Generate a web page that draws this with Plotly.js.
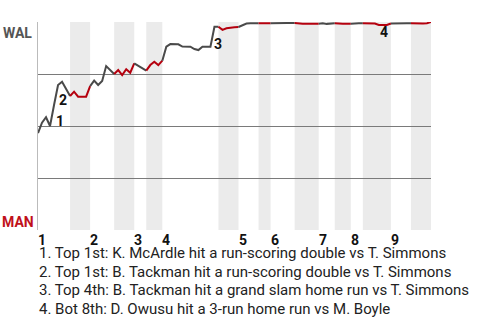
<!DOCTYPE html>
<html>
<head>
<meta charset="utf-8">
<script src="https://cdn.plot.ly/plotly-3.0.1.min.js"></script>
<style>html,body{margin:0;padding:0;background:#fff;}#chart{width:480px;height:320px;}</style>
</head>
<body>
<div id="chart"></div>
<script>
// Win probability for WAL (%) after each plate appearance (index 0..98)
const winProb = [
  46.6, 51.6, 54.2, 50.0, 60.1, 69.7, 71.3, 67.8, 64.4,          // top 1 (0-8)
  66.5, 64.1, 64.1, 64.1, 69.2,                                  // bot 1 (9-13)
  71.8, 69.7, 71.6, 78.8, 76.9, 75.0,                            // top 2 (14-19)
  76.9, 74.5, 77.3, 75.6, 80.1,                                  // bot 2 (20-24)
  78.8, 77.6, 76.6,                                              // top 3 (25-27)
  79.3, 80.9, 79.3, 81.4,                                        // bot 3 (28-31)
  88.1, 89.4, 89.4, 89.3, 88.2, 88.1, 88.1, 87.0, 86.5, 88.1, 88.1, 88.1, 97.7, 97.7, // top 4 (32-45)
  96.2, 97.0, 97.4, 97.5, 97.6,                                  // bot 4 (46-50)
  98.4, 99.3, 99.4, 99.4, 99.4,                                  // top 5 (51-55)
  99.3, 99.3, 99.4,                                              // bot 5 (56-58)
  99.5, 99.5, 99.5, 99.5, 99.5, 99.5,                            // top 6 (59-64)
  99.2, 99.2, 99.2, 99.2, 99.2, 99.2,                            // bot 6 (65-70)
  99.4, 99.1, 99.4, 99.4,                                        // top 7 (71-74)
  99.2, 99.2, 99.2, 99.2,                                        // bot 7 (75-78)
  99.4, 99.4, 99.4,                                              // top 8 (79-81)
  99.3, 99.3, 99.3, 98.6, 98.6, 98.6, 99.3,                      // bot 8 (82-88)
  99.4, 99.4, 99.4, 99.4, 99.4,                                  // top 9 (89-93)
  99.3, 99.3, 99.3, 99.4, 100.0                                  // bot 9 (94-98)
];
// Half-inning boundaries (plate appearance index where each half starts; last = end)
const halfStarts = [0, 8, 13, 19, 24, 27, 31, 45, 50, 55, 58, 64, 70, 74, 78, 81, 88, 93, 98];
const innings = ["1","2","3","4","5","6","7","8","9"];
const teamTop = "WAL";
const teamBottom = "MAN";
const eventLabels = ["1","2","3","4"];
const eventIndex = [3, 4, 43, 84];
const notes = [
  "1. Top 1st: K. McArdle hit a run-scoring double vs T. Simmons",
  "2. Top 1st: B. Tackman hit a run-scoring double vs T. Simmons",
  "3. Top 4th: B. Tackman hit a grand slam home run vs T. Simmons",
  "4. Bot 8th: D. Owusu hit a 3-run home run vs M. Boyle"
];

const GRAY = '#4a4a4a', RED = '#b5000e';
const FONT = 'Roboto, Arial, sans-serif';
const traces = [];
const shapes = [];
for (let h = 0; h < halfStarts.length - 1; h++) {
  const a = halfStarts[h], b = halfStarts[h + 1];
  const xs = [], ys = [];
  for (let i = a; i <= b; i++) { xs.push(i); ys.push(winProb[i]); }
  const isBottom = h % 2 === 1;
  traces.push({x: xs, y: ys, type: 'scatter', mode: 'lines',
    line: {color: isBottom ? RED : GRAY, width: 2}, hoverinfo: 'skip', showlegend: false});
  if (isBottom) {
    shapes.push({type: 'rect', xref: 'x', yref: 'paper', x0: a, x1: b, y0: 0, y1: 1,
      fillcolor: '#ebebeb', line: {width: 0}, layer: 'below'});
  }
}

const annotations = [];
annotations.push({text: '<b>' + teamTop + '</b>', xref: 'paper', yref: 'paper', x: 0, y: 1,
  xanchor: 'right', yanchor: 'top', xshift: -4, yshift: -1, showarrow: false,
  font: {family: FONT, size: 14, color: '#555'}});
annotations.push({text: '<b>' + teamBottom + '</b>', xref: 'paper', yref: 'paper', x: 0, y: 0,
  xanchor: 'right', yanchor: 'bottom', xshift: -2, yshift: -2, showarrow: false,
  font: {family: FONT, size: 14, color: '#c0101a'}});
innings.forEach((lab, k) => {
  annotations.push({text: '<b>' + lab + '</b>', xref: 'x', yref: 'paper', x: halfStarts[2 * k], y: 0,
    xanchor: 'left', yanchor: 'middle', xshift: -2, yshift: -9.5, showarrow: false,
    font: {family: FONT, size: 14, color: '#111'}});
});
const evShift = [[4, 5], [3, 5], [2, 3], [3, -9]];
eventLabels.forEach((lab, k) => {
  const i = eventIndex[k];
  annotations.push({text: '<b>' + lab + '</b>', xref: 'x', yref: 'y', x: i, y: winProb[i],
    xanchor: 'left', yanchor: 'middle', xshift: evShift[k][0], yshift: evShift[k][1], showarrow: false,
    font: {family: FONT, size: 14, color: '#111'}});
});
notes.forEach((t, k) => {
  annotations.push({text: t, xref: 'paper', yref: 'paper', x: 0, y: 0,
    xanchor: 'left', yanchor: 'middle', xshift: -1, yshift: -(23 + 18.7 * k), showarrow: false,
    font: {family: FONT, size: 15, color: '#222'}});
});

const layout = {
  width: 480, height: 320,
  margin: {l: 38, r: 49, t: 22, b: 90, pad: 0},
  paper_bgcolor: '#fff', plot_bgcolor: 'rgba(0,0,0,0)',
  showlegend: false,
  xaxis: {range: [0, 98], showgrid: false, zeroline: false, showticklabels: false,
    ticks: '', showline: false, fixedrange: true},
  yaxis: {range: [0, 100], tickvals: [25, 50, 75, 100], showgrid: true, gridcolor: '#7a7a7a',
    gridwidth: 1, zeroline: false, showticklabels: false, ticks: '', showline: true,
    linecolor: '#bbbbbb', linewidth: 1, fixedrange: true},
  shapes: shapes,
  annotations: annotations
};
Plotly.newPlot('chart', traces, layout, {displayModeBar: false, staticPlot: true});
</script>
</body>
</html>
